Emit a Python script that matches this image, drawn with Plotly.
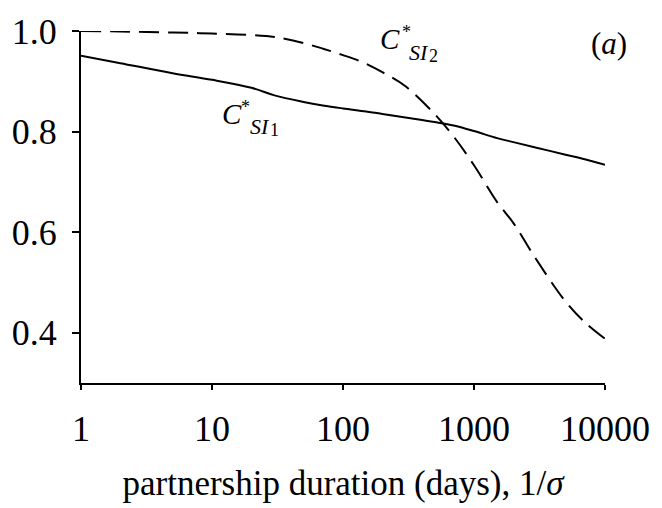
import plotly.graph_objects as go

duration = [1, 2, 5, 10, 20, 30, 50, 70, 100, 150, 200, 300, 500, 700,
            1000, 1500, 2000, 3000, 5000, 7000, 10000]
c_si1 = [0.951, 0.936, 0.916, 0.903, 0.887, 0.872, 0.859, 0.852, 0.846, 0.840,
         0.835, 0.828, 0.819, 0.812, 0.801, 0.787, 0.779, 0.768, 0.754, 0.745, 0.734]
c_si2 = [1.000, 0.999, 0.997, 0.995, 0.992, 0.988, 0.976, 0.965, 0.952, 0.935,
         0.918, 0.890, 0.835, 0.790, 0.733, 0.660, 0.618, 0.545, 0.462, 0.421, 0.388]
x_ticks = [1, 10, 100, 1000, 10000]
x_tick_text = ["1", "10", "100", "1000", "10000"]
y_ticks = [0.4, 0.6, 0.8, 1.0]
y_tick_text = ["0.4", "0.6", "0.8", "1.0"]

W, H = 662, 508
L, R, T, B = 78, 608, 25, 385
FONT = "Liberation Serif, Times New Roman, serif"

fig = go.Figure()
fig.add_trace(go.Scatter(x=duration, y=c_si1, mode="lines", line_shape="spline",
                         line=dict(color="black", width=2), showlegend=False))
fig.add_trace(go.Scatter(x=duration, y=c_si2, mode="lines", line_shape="spline",
                         line=dict(color="black", width=2, dash="20px,9px"),
                         showlegend=False))


def px2paper(px, py):
    return (px - L) / (R - L), (B - py) / (B - T)


def label(text, px, py, size):
    x, y = px2paper(px, py)
    fig.add_annotation(x=x, y=y, xref="paper", yref="paper", text=text,
                       showarrow=False, xanchor="center", yanchor="middle",
                       font=dict(family=FONT, size=size, color="black"))


# C*_SI1
label("<i>C</i>", 231, 110, 29)
label("*", 244, 103, 18)
label("<i>SI</i>", 259, 123, 22)
label("1", 274, 126, 18)
# C*_SI2
label("<i>C</i>", 391, 33, 29)
label("*", 407, 26, 18)
label("<i>SI</i>", 420, 47, 22)
label("2", 435, 51, 18)
# panel label
label("(<i>a</i>)", 612, 38, 31)

fig.update_layout(
    width=W, height=H,
    margin=dict(l=L, r=W - R, t=T, b=H - B, pad=0),
    paper_bgcolor="white", plot_bgcolor="white",
    font=dict(family=FONT, size=36, color="black"),
    xaxis=dict(type="log", range=[0, 4], tickvals=x_ticks, ticktext=x_tick_text,
               showgrid=False, zeroline=False, showline=True, linecolor="black",
               linewidth=2, ticks="outside", ticklen=5, tickwidth=1.5,
               tickcolor="black", tickfont=dict(size=36), ticklabelstandoff=8,
               title=dict(text="partnership duration (days), 1/<i>σ</i>",
                          font=dict(size=35), standoff=22)),
    yaxis=dict(range=[0.3, 1.0], tickvals=y_ticks, ticktext=y_tick_text,
               showgrid=False, zeroline=False, showline=True, linecolor="black",
               linewidth=2, ticks="outside", ticklen=7, tickwidth=1.5,
               tickcolor="black", tickfont=dict(size=36), ticklabelstandoff=8),
)

fig.write_html("out.html", config={"displayModeBar": False},
               post_script="document.body.style.margin='0px';")
